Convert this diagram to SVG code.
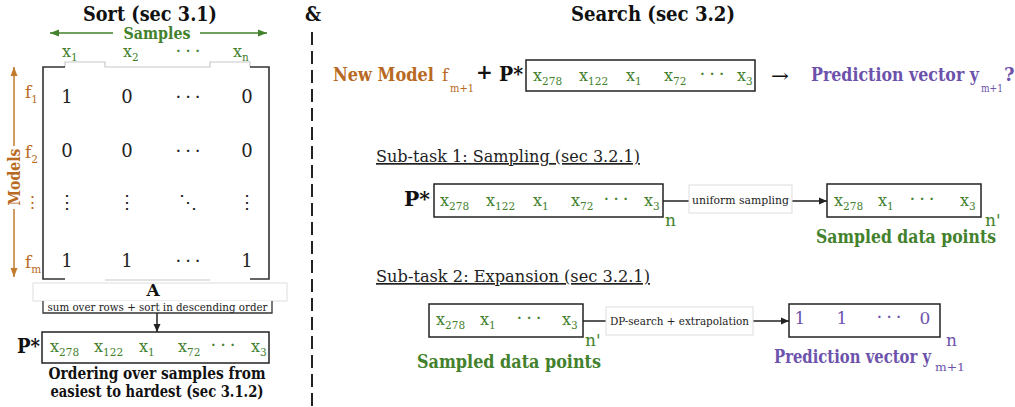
<svg xmlns="http://www.w3.org/2000/svg" width="1015" height="407" viewBox="0 0 1015 407">
<style>
text{font-family:"DejaVu Serif","Liberation Serif",serif}
.tt{font-size:20px;font-weight:bold;fill:#111}
.num{font-size:18px;fill:#222;text-anchor:middle}
.xe{font-size:16px;fill:#43812d}
.xs{font-size:16px;fill:#43812d}
.sub{font-size:10.5px}
.dots{font-size:18px;letter-spacing:4px;text-anchor:middle}
.or{fill:#b86a22}
.gr{fill:#43812d}
.pu{fill:#6d52ac}
.bg{font-weight:bold}
.box{fill:#fff;stroke:#222;stroke-width:1.5}
.lbl{fill:#fff;stroke:#ddd;stroke-width:1}
.hd{font-size:17px;fill:#222;text-decoration:underline}
.sm{font-size:11.5px;fill:#222}
.ln{stroke:#222;stroke-width:1.5;fill:none}
</style>
<defs>
<marker id="ak" markerUnits="userSpaceOnUse" markerWidth="9" markerHeight="8" refX="8" refY="4" orient="auto"><path d="M0,0.5 L8,4 L0,7.5z" fill="#222"/></marker>
<marker id="ag" markerUnits="userSpaceOnUse" markerWidth="10" markerHeight="8" refX="9" refY="4" orient="auto"><path d="M0,0.5 L9,4 L0,7.5z" fill="#43812d"/></marker>
<marker id="ao" markerUnits="userSpaceOnUse" markerWidth="10" markerHeight="8" refX="9" refY="4" orient="auto"><path d="M0,0.5 L9,4 L0,7.5z" fill="#c27a2c"/></marker>
</defs>

<g id="titles">
<text class="tt" x="150" y="21" text-anchor="middle" textLength="134" lengthAdjust="spacingAndGlyphs">Sort (sec 3.1)</text>
<text class="tt" x="305" y="21" textLength="16" lengthAdjust="spacingAndGlyphs">&amp;</text>
<text class="tt" x="653" y="21" text-anchor="middle" textLength="164" lengthAdjust="spacingAndGlyphs">Search (sec 3.2)</text>
</g>

<line x1="312" y1="32" x2="312" y2="407" stroke="#222" stroke-width="2" stroke-dasharray="13,6"/>

<g id="connectors">
<line x1="113" y1="33" x2="50" y2="33" stroke="#43812d" stroke-width="1.5" marker-end="url(#ag)"/>
<line x1="200" y1="33" x2="267" y2="33" stroke="#43812d" stroke-width="1.5" marker-end="url(#ag)"/>
<line x1="14" y1="146" x2="14" y2="67" stroke="#c27a2c" stroke-width="1.5" marker-end="url(#ao)"/>
<line x1="14" y1="209" x2="14" y2="277" stroke="#c27a2c" stroke-width="1.5" marker-end="url(#ao)"/>
<line class="ln" x1="157" y1="313" x2="157" y2="332" marker-end="url(#ak)"/>
<line class="ln" x1="663" y1="201" x2="689" y2="201"/>
<line class="ln" x1="792" y1="201" x2="827" y2="201" marker-end="url(#ak)"/>
<line class="ln" x1="583" y1="321" x2="606" y2="321"/>
<line class="ln" x1="753" y1="321" x2="789" y2="321" marker-end="url(#ak)"/>
</g>

<g id="samples-label">
<text class="gr bg" x="157" y="39" font-size="16" text-anchor="middle" textLength="67" lengthAdjust="spacingAndGlyphs">Samples</text>
</g>
<g id="models-label">
<text class="or bg" x="0" y="0" font-size="16" text-anchor="middle" textLength="57" lengthAdjust="spacingAndGlyphs" transform="translate(20,177) rotate(-90)">Models</text>
</g>

<g id="matrix">
<path d="M65,67 V62 H105 V67 H210 V62 H250 V67 M105,280 H210" fill="none" stroke="#c8c8c8" stroke-width="1.2"/>
<path d="M65,67 H43 V279 H65 M250,67 H269 V279 H250" fill="none" stroke="#333" stroke-width="1.6"/>
<text class="xs" x="62" y="57">x<tspan class="sub" dy="4">1</tspan></text>
<text class="xs" x="123" y="57">x<tspan class="sub" dy="4">2</tspan></text>
<text class="dots gr" x="190" y="57">···</text>
<text class="xs" x="233" y="57">x<tspan class="sub" dy="4">n</tspan></text>
<text class="or" x="25" y="98" font-size="17">f<tspan class="sub" dy="5">1</tspan></text>
<text class="or" x="25" y="158" font-size="17">f<tspan class="sub" dy="5">2</tspan></text>
<text class="or" x="32" y="208" font-size="17" text-anchor="middle">⋮</text>
<text class="or" x="25" y="268" font-size="17">f<tspan class="sub" dy="5">m</tspan></text>
<text class="num" x="67" y="103">1</text><text class="num" x="127" y="103">0</text><text class="dots" x="190" y="103" fill="#222">···</text><text class="num" x="247" y="103">0</text>
<text class="num" x="67" y="157">0</text><text class="num" x="127" y="157">0</text><text class="dots" x="190" y="157" fill="#222">···</text><text class="num" x="247" y="157">0</text>
<text class="num" x="67" y="208">⋮</text><text class="num" x="127" y="208">⋮</text><text class="num" x="188" y="208">⋱</text><text class="num" x="247" y="208">⋮</text>
<text class="num" x="67" y="267">1</text><text class="num" x="127" y="267">1</text><text class="dots" x="190" y="267" fill="#222">···</text><text class="num" x="247" y="267">1</text>
</g>

<g id="label-A">
<rect class="lbl" x="33" y="283" width="254" height="18" stroke="#ccc"/>
<text class="bg" x="153" y="296" font-size="17" text-anchor="middle" fill="#111">A</text>
</g>
<g id="label-sum">
<rect x="43" y="301" width="229" height="12" fill="#fff"/>
<path d="M43,301 V313 H272 V301" fill="none" stroke="#333" stroke-width="1.3"/>
<text class="sm" x="157.5" y="311" text-anchor="middle" textLength="220" lengthAdjust="spacingAndGlyphs">sum over rows + sort in descending order</text>
</g>

<g id="pstar-sort">
<text class="tt" x="17" y="353" textLength="23" lengthAdjust="spacingAndGlyphs">P*</text>
<rect class="box" x="42" y="332" width="227" height="31"/>
<text class="xe" x="50" y="352">x<tspan class="sub" dy="4">278</tspan></text>
<text class="xe" x="94" y="352">x<tspan class="sub" dy="4">122</tspan></text>
<text class="xe" x="139" y="352">x<tspan class="sub" dy="4">1</tspan></text>
<text class="xe" x="178" y="352">x<tspan class="sub" dy="4">72</tspan></text>
<text class="dots gr" x="225" y="351">···</text>
<text class="xe" x="251" y="352">x<tspan class="sub" dy="4">3</tspan></text>
<text class="bg" x="157" y="379" font-size="16" fill="#111" text-anchor="middle" textLength="217" lengthAdjust="spacingAndGlyphs">Ordering over samples from</text>
<text class="bg" x="157" y="397" font-size="16" fill="#111" text-anchor="middle" textLength="213" lengthAdjust="spacingAndGlyphs">easiest to hardest (sec 3.1.2)</text>
</g>

<g id="new-model">
<text class="or bg" x="333" y="81" font-size="18" textLength="101" lengthAdjust="spacingAndGlyphs">New Model</text>
<text class="or" x="442" y="81" font-size="17">f</text>
<text class="or" x="450" y="92" font-size="10.5" textLength="24" lengthAdjust="spacingAndGlyphs">m+1</text>
<text class="tt" x="484.5" y="79" text-anchor="middle">+</text>
<text class="tt" x="499" y="81" textLength="24" lengthAdjust="spacingAndGlyphs">P*</text>
</g>
<g id="pstar-search">
<rect class="box" x="526" y="60" width="229" height="31"/>
<text class="xe" x="533" y="81">x<tspan class="sub" dy="4">278</tspan></text>
<text class="xe" x="579" y="81">x<tspan class="sub" dy="4">122</tspan></text>
<text class="xe" x="626" y="81">x<tspan class="sub" dy="4">1</tspan></text>
<text class="xe" x="664" y="81">x<tspan class="sub" dy="4">72</tspan></text>
<text class="dots gr" x="714" y="80">···</text>
<text class="xe" x="737" y="81">x<tspan class="sub" dy="4">3</tspan></text>
</g>
<g id="prediction-q">
<text x="771" y="82" font-size="18" fill="#111" textLength="18" lengthAdjust="spacingAndGlyphs">→</text>
<text class="pu bg" x="811" y="81" font-size="18" textLength="168" lengthAdjust="spacingAndGlyphs">Prediction vector y</text>
<text class="pu" x="981" y="92" font-size="10.5" textLength="22" lengthAdjust="spacingAndGlyphs">m+1</text>
<text class="pu bg" x="1004" y="81" font-size="18">?</text>
</g>

<g id="subtask1-heading">
<text class="hd" x="376" y="162" textLength="264" lengthAdjust="spacingAndGlyphs">Sub-task 1: Sampling (sec 3.2.1)</text>
</g>
<g id="subtask1-p">
<text class="tt" x="404" y="206" textLength="26" lengthAdjust="spacingAndGlyphs">P*</text>
<rect class="box" x="434" y="184" width="229" height="33"/>
<text class="xe" x="440" y="206">x<tspan class="sub" dy="4">278</tspan></text>
<text class="xe" x="486" y="206">x<tspan class="sub" dy="4">122</tspan></text>
<text class="xe" x="533" y="206">x<tspan class="sub" dy="4">1</tspan></text>
<text class="xe" x="571" y="206">x<tspan class="sub" dy="4">72</tspan></text>
<text class="dots gr" x="618" y="205">···</text>
<text class="xe" x="644" y="206">x<tspan class="sub" dy="4">3</tspan></text>
<text class="gr" x="665" y="226" font-size="17">n</text>
</g>
<g id="uniform-label">
<rect class="lbl" x="689" y="185" width="103" height="28"/>
<text class="sm" x="740.5" y="204" text-anchor="middle" textLength="97" lengthAdjust="spacingAndGlyphs">uniform sampling</text>
</g>
<g id="sampled1">
<rect class="box" x="827" y="184" width="154" height="33"/>
<text class="xe" x="834" y="206">x<tspan class="sub" dy="4">278</tspan></text>
<text class="xe" x="878" y="206">x<tspan class="sub" dy="4">1</tspan></text>
<text class="dots gr" x="924" y="205">···</text>
<text class="xe" x="960" y="206">x<tspan class="sub" dy="4">3</tspan></text>
<text class="gr" x="985" y="226" font-size="17">n'</text>
<text class="gr bg" x="816" y="243" font-size="18" textLength="180" lengthAdjust="spacingAndGlyphs">Sampled data points</text>
</g>

<g id="subtask2-heading">
<text class="hd" x="376" y="282" textLength="274" lengthAdjust="spacingAndGlyphs">Sub-task 2: Expansion (sec 3.2.1)</text>
</g>
<g id="sampled2">
<rect class="box" x="429" y="304" width="154" height="33"/>
<text class="xe" x="436" y="325">x<tspan class="sub" dy="4">278</tspan></text>
<text class="xe" x="480" y="325">x<tspan class="sub" dy="4">1</tspan></text>
<text class="dots gr" x="531" y="324">···</text>
<text class="xe" x="562" y="325">x<tspan class="sub" dy="4">3</tspan></text>
<text class="gr" x="585" y="346" font-size="17">n'</text>
<text class="gr bg" x="417" y="368" font-size="18" textLength="184" lengthAdjust="spacingAndGlyphs">Sampled data points</text>
</g>
<g id="dp-label">
<rect class="lbl" x="606" y="307" width="147" height="28"/>
<text class="sm" x="679.5" y="325" font-size="12" text-anchor="middle" textLength="139" lengthAdjust="spacingAndGlyphs">DP-search + extrapolation</text>
</g>
<g id="prediction">
<rect class="box" x="789" y="304" width="151" height="33"/>
<text class="pu" x="800" y="324" font-size="17" text-anchor="middle">1</text>
<text class="pu" x="842" y="324" font-size="17" text-anchor="middle">1</text>
<text class="dots pu" x="891" y="323">···</text>
<text class="pu" x="925" y="324" font-size="17" text-anchor="middle">0</text>
<text class="pu" x="946" y="346" font-size="17">n</text>
<text class="pu bg" x="774" y="363" font-size="18" textLength="157" lengthAdjust="spacingAndGlyphs">Prediction vector y</text>
<text class="pu" x="935" y="371" font-size="10.5" textLength="30" lengthAdjust="spacingAndGlyphs">m+1</text>
</g>
</svg>
